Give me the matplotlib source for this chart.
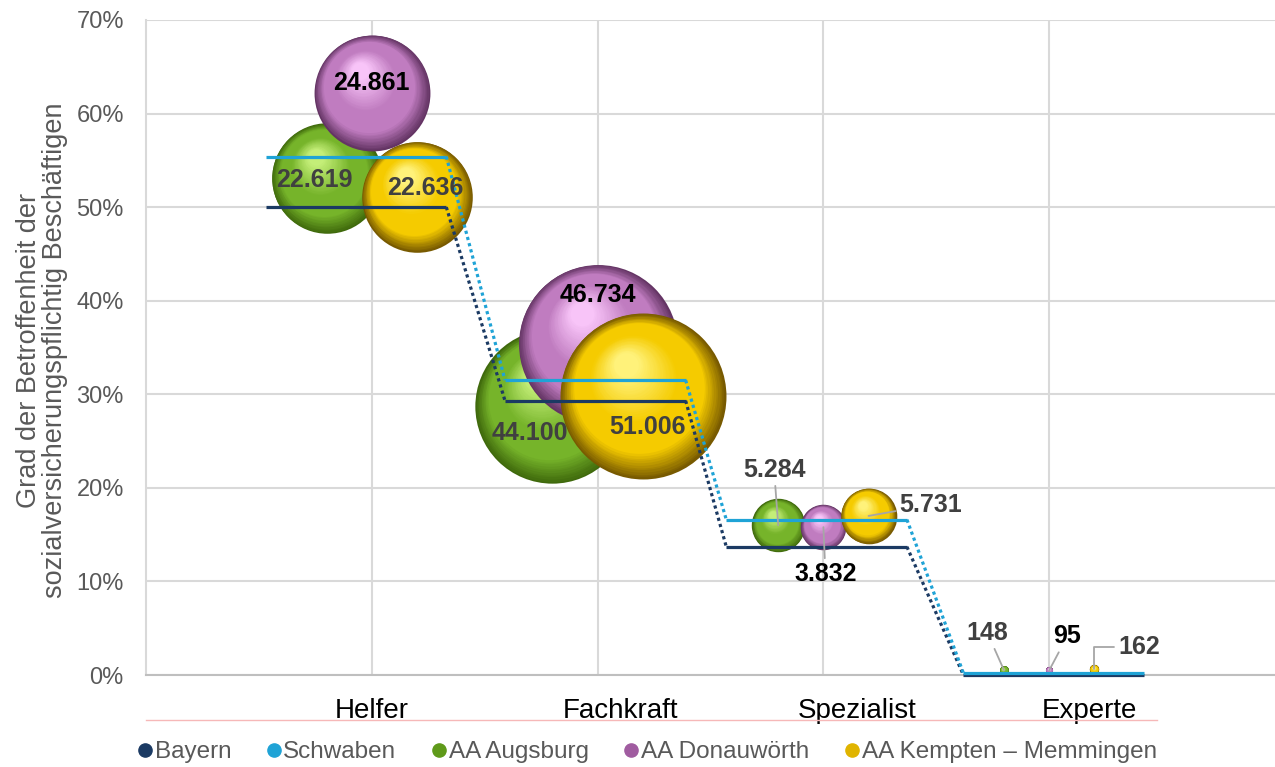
import numpy as np
import matplotlib
matplotlib.use('Agg')
import matplotlib.pyplot as plt
from matplotlib import font_manager
from matplotlib.lines import Line2D
from matplotlib.transforms import ScaledTranslation
from matplotlib.colors import to_rgb

# Daten
kategorien = ['Helfer', 'Fachkraft', 'Spezialist', 'Experte']
bayern = [50.0, 29.3, 13.7, 0.0]
schwaben = [55.4, 31.5, 16.6, 0.2]
augsburg_y = [53.1, 28.7, 16.0, 0.5]
augsburg_n = [22619, 44100, 5284, 148]
donau_y = [62.2, 35.4, 15.8, 0.5]
donau_n = [24861, 46734, 3832, 95]
kempten_y = [51.1, 29.8, 17.0, 0.6]
kempten_n = [22636, 51006, 5731, 162]

# Schriften (Narrow wenn vorhanden)
try:
    font_manager.findfont('Liberation Sans Narrow', fallback_to_default=False)
    schmal, kat_size, leg_size = 'Liberation Sans Narrow', 22.5, 20
except ValueError:
    schmal, kat_size, leg_size = 'Liberation Sans', 20, 17.5
plt.rcParams['font.family'] = ['Liberation Sans', 'DejaVu Sans']

grau = '#595959'
navy = '#1B3A63'
hellblau = '#1FA3D6'

fig = plt.figure(figsize=(12.75, 7.67), dpi=100)
ax = fig.add_axes([146/1275, 1-675/767, 1129/1275, 655/767])
ax.set_xlim(0, 5)
ax.set_ylim(0, 70)
ax.set_xticks([1, 2, 3, 4])
ax.set_xticklabels([])
ax.set_yticks(range(0, 71, 10))
ax.set_yticklabels([f'{v}%' for v in range(0, 71, 10)], fontsize=17, color=grau)
ax.tick_params(length=0, pad=16)
ax.grid(True, color='#d9d9d9', lw=1.5, zorder=0)
ax.set_axisbelow(True)
for s in ('top', 'right'):
    ax.spines[s].set_visible(False)
ax.spines['left'].set_color('#d9d9d9')
ax.spines['left'].set_linewidth(1.5)
ax.spines['bottom'].set_color('#bfbfbf')
ax.spines['bottom'].set_linewidth(1.5)


def mix(a, b, t):
    a, b = np.array(to_rgb(a)), np.array(to_rgb(b))
    return tuple(a + (b - a) * t)


def kugel(x, y, s, farben, z):
    dunkel, mittel, hell = farben
    r = np.sqrt(s) / 2
    n = 45
    for k in range(n):
        t = k / (n - 1)
        if t < 0.25:
            col = mix(dunkel, mittel, t / 0.25)
        elif t < 0.55:
            col = mittel
        else:
            col = mix(mittel, hell, (t - 0.55) / 0.45)
        dx = -0.2 * r * t
        dy = 0.38 * r * t
        tr = ax.transData + ScaledTranslation(dx / 72, dy / 72, fig.dpi_scale_trans)
        ax.scatter([x], [y], s=s * (1 - 0.85 * t) ** 2, color=col, transform=tr,
                   linewidths=0, zorder=z, clip_on=False)


skala = 14280 / 51006
pos = np.arange(1, 5)
serien = [
    (augsburg_y, augsburg_n, -0.2, ('#3f690c', '#76b42a', '#c4ee78'), 2, '#404040',
     [(-9, -1.5), (-16.5, -19), (-3, 40), (-12, 27)]),
    (donau_y, donau_n, 0.0, ('#643464', '#c07cc0', '#f8c4f8'), 3, '#000000',
     [(0, 7), (0, 35), (1.5, -34), (13, 24.5)]),
    (kempten_y, kempten_n, 0.2, ('#785a00', '#f5cb00', '#fff27a'), 4, '#404040',
     [(6, 6.5), (3.5, -22), (45, 8), (32, 16)]),
]
mit_linie = {(0, 2), (0, 3), (1, 2), (1, 3), (2, 2), (2, 3)}

for si, (ys, ns, off, farben, z, tcol, versatz) in enumerate(serien):
    for i in range(4):
        x = pos[i] + off
        kugel(x, ys[i], ns[i] * skala, farben, z)
        txt = f'{ns[i]:,}'.replace(',', '.')
        ap = None
        if (si, i) in mit_linie:
            ap = dict(arrowstyle='-', color='#a6a6a6', lw=1.3, shrinkA=1, shrinkB=0)
            if (si, i) == (2, 3):
                ap['connectionstyle'] = 'angle,angleA=0,angleB=90,rad=0'
        ax.annotate(txt, (x, ys[i]), xytext=versatz[i], textcoords='offset points',
                    ha='center', va='center', fontsize=18, fontweight='bold',
                    color=tcol, zorder=7, arrowprops=ap, annotation_clip=False)

# Stufenlinien Bayern / Schwaben
seg_start = [0.53, 1.59, 2.57, 3.62]
seg_len = 0.8
for werte, col in ((bayern, navy), (schwaben, hellblau)):
    for i in range(4):
        ax.plot([seg_start[i], seg_start[i] + seg_len], [werte[i], werte[i]], color=col,
                lw=2.3, solid_capstyle='butt', zorder=6, clip_on=False)
        if i < 3:
            ax.plot([seg_start[i] + seg_len, seg_start[i + 1]], [werte[i], werte[i + 1]],
                    color=col, lw=2.3, ls=(0, (1, 1)), zorder=6, clip_on=False)

# Kategorien unter der Achse
kat_x = [1.0, 2.1, 3.15, 4.18]
for k, xk in zip(kategorien, kat_x):
    ax.text(xk, -0.055, k, transform=ax.get_xaxis_transform(), ha='center', va='center',
            fontsize=kat_size, family=schmal, color='black')
fig.add_artist(Line2D([146/1275, 1157/1275], [1-720/767, 1-720/767], color='#f6b8b8', lw=1))

fig.text(42/1275, 1-350/767, 'Grad der Betroffenheit der\nsozialversicherungspflichtig Beschäftigen',
         rotation=90, ha='center', va='center', multialignment='center', fontsize=19.5,
         linespacing=1.0, color=grau)

handles = [Line2D([], [], ls='', marker='o', ms=9.5, color=c) for c in
           (navy, hellblau, '#5f9a1a', '#a05ca0', '#e0b400')]
namen = ['Bayern', 'Schwaben', 'AA Augsburg', 'AA Donauwörth', 'AA Kempten – Memmingen']
fig.legend(handles, namen, loc='center', bbox_to_anchor=(0.508, 1-752/767), ncol=5,
           frameon=False, handlelength=0.5, handletextpad=0.15, columnspacing=1.5,
           prop={'family': schmal, 'size': leg_size}, labelcolor=grau,
           borderpad=0, borderaxespad=0)

fig.savefig('out.png', dpi=100)
